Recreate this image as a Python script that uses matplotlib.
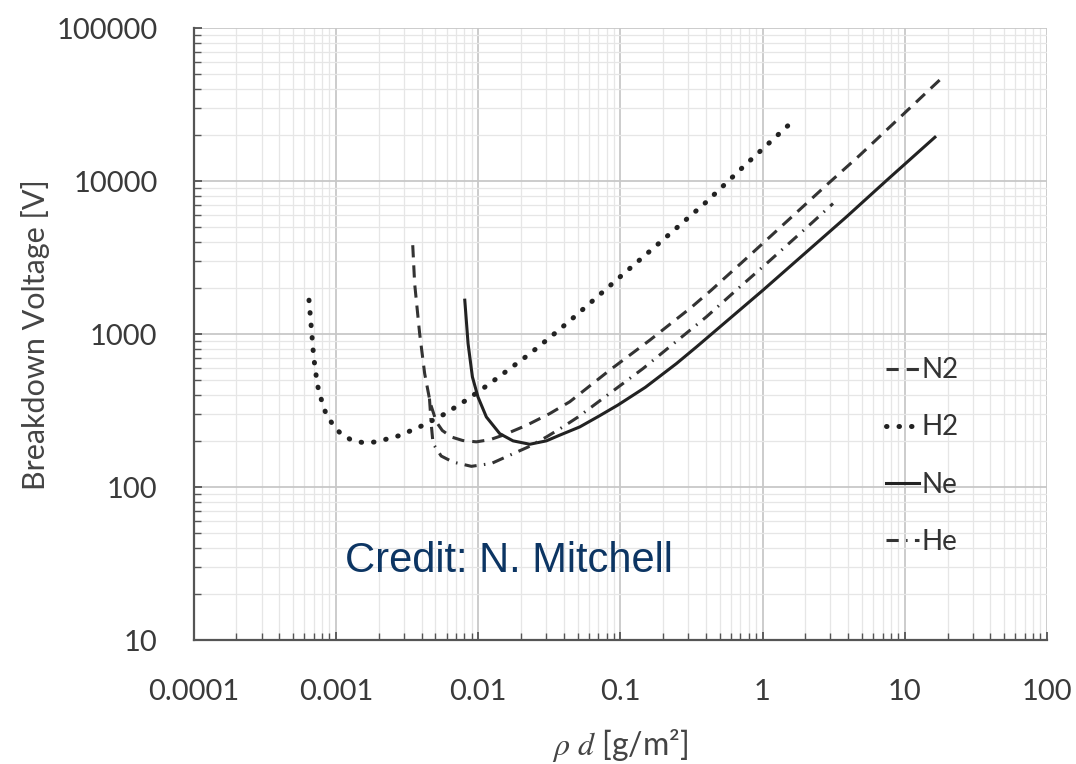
import matplotlib
matplotlib.use('Agg')
import matplotlib.pyplot as plt

# Paschen curves
h2_x = [0.000647, 0.000673, 0.000698, 0.000741, 0.000786, 0.000843, 0.00094, 0.00108,
        0.00129, 0.00158, 0.00193, 0.00282, 0.0041, 0.00589, 0.00836, 0.01175, 0.0164,
        0.0230, 0.0319, 0.0438, 0.1, 0.2, 0.403, 0.75, 1.64]
h2_y = [1670, 1080, 710, 467, 380, 311, 261, 224, 203, 195, 198, 218, 254, 303, 374,
        467, 588, 743, 951, 1217, 2380, 4150, 7330, 12700, 24800]

n2_x = [0.00347, 0.00358, 0.00388, 0.00421, 0.00462, 0.00509, 0.0056, 0.00649, 0.0078,
        0.00973, 0.0122, 0.0150, 0.0219, 0.0319, 0.0441, 0.0841, 0.161, 0.316, 0.436,
        0.813, 1.06, 2.81, 4.83, 19.1]
n2_y = [3820, 2140, 1012, 553, 352, 267, 235, 213, 202, 198, 205, 219, 254, 303, 362,
        582, 914, 1500, 1941, 3280, 4110, 9420, 14800, 49300]

ne_x = [0.00806, 0.0085, 0.00912, 0.00998, 0.01143, 0.0142, 0.0176, 0.0231, 0.0302,
        0.0375, 0.0519, 0.070, 0.0964, 0.15, 0.248, 0.343, 1.0, 3.89, 7.43, 16.3]
ne_y = [1670, 869, 526, 389, 288, 224, 201, 191, 201, 219, 248, 290, 345, 450, 643,
        826, 1930, 5850, 10100, 19400]

he_x = [0.00455, 0.00468, 0.00482, 0.0055, 0.00667, 0.00897, 0.0124, 0.0167, 0.0224,
        0.0302, 0.0395, 0.0505, 0.1445, 0.402, 0.653, 1.09, 2.26, 3.13]
he_y = [380, 260, 193, 160, 146, 137, 143, 162, 183, 213, 248, 288, 597, 1297, 1941,
        2950, 5420, 7150]

x_ticks = [0.0001, 0.001, 0.01, 0.1, 1, 10, 100]
x_labels = ['0.0001', '0.001', '0.01', '0.1', '1', '10', '100']
y_ticks = [10, 100, 1000, 10000, 100000]
y_labels = ['10', '100', '1000', '10000', '100000']

plt.rcParams['font.family'] = ['Lato', 'DejaVu Sans']
plt.rcParams['mathtext.fontset'] = 'stix'

fig = plt.figure(figsize=(10.76, 7.64), dpi=100)
ax = fig.add_axes([0.180, 0.162, 0.793, 0.801])

line_col = '#333333'
ax.plot(n2_x, n2_y, color=line_col, lw=2.2, dashes=(4, 2.6), label='N2')
ax.plot(h2_x, h2_y, color='#222222', lw=3.6, dashes=(0.1, 2.4), dash_capstyle='round',
        label='H2')
ax.plot(ne_x, ne_y, color='#222222', lw=2.2, label='Ne')
ax.plot(he_x, he_y, color=line_col, lw=2.2, dashes=(4, 2.4, 0.5, 2.4), label='He')

ax.set_xscale('log')
ax.set_yscale('log')
ax.set_xlim(0.0001, 100)
ax.set_ylim(10, 100000)
ax.set_xticks(x_ticks)
ax.set_xticklabels(x_labels)
ax.set_yticks(y_ticks)
ax.set_yticklabels(y_labels)

ax.grid(which='major', color='#c8c8c8', lw=1.3)
ax.grid(which='minor', color='#e6e6e6', lw=0.9)
ax.set_axisbelow(True)

for s in ('top', 'right'):
    ax.spines[s].set_visible(False)
for s in ('left', 'bottom'):
    ax.spines[s].set_color('#555555')
    ax.spines[s].set_linewidth(1.6)

ax.tick_params(which='both', direction='in', color='#555555', labelsize=21,
               labelcolor='#3a3a3a')
ax.tick_params(which='major', length=6, width=1.3)
ax.tick_params(which='minor', length=5, width=1.0)
ax.tick_params(axis='y', which='major', pad=26)
ax.tick_params(axis='x', which='major', pad=28)

ax.set_ylabel('Breakdown Voltage [V]', fontsize=22, color='#444444')
ax.yaxis.set_label_coords(-0.168, 0.5)
ax.set_xlabel(r'$\rho\ d$ [g/m²]', fontsize=23, color='#444444')
ax.xaxis.set_label_coords(0.5, -0.142)

ax.legend(loc='upper left', bbox_to_anchor=(0.800, 0.565), bbox_transform=fig.transFigure,
          frameon=False, fontsize=20, handlelength=1.2, handletextpad=0.1,
          labelspacing=1.12, labelcolor='#333333')

fig.text(345 / 1076, 1 - 572 / 764, 'Credit: N. Mitchell', fontsize=30,
         family='Liberation Sans', color='#0c3563', va='baseline')

fig.savefig('out.png', dpi=100, facecolor='white')
